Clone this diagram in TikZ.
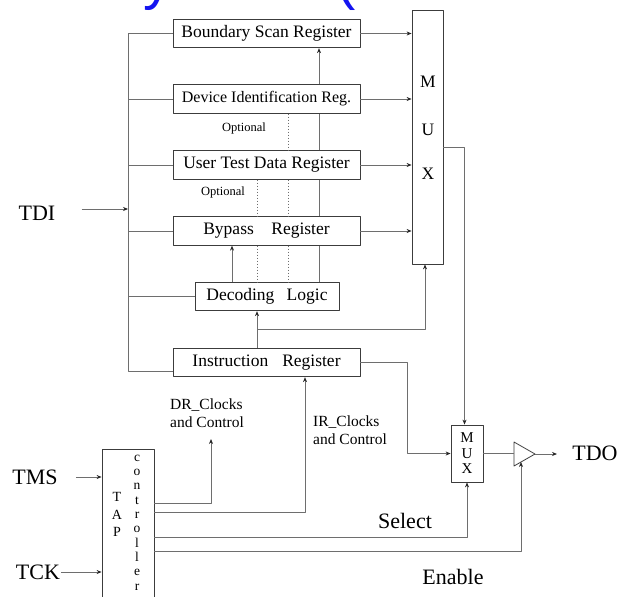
\documentclass[tikz,border=0pt]{standalone}
\usepackage{fontspec}
\setmainfont{Liberation Serif}
\newfontfamily\titlesans{Liberation Sans}
\usetikzlibrary{arrows.meta}
\definecolor{Wline}{HTML}{6E6E6E}
\definecolor{Bline}{HTML}{3C3C3C}
\definecolor{Tblue}{HTML}{1414F0}
\newcommand{\fs}[2]{\fontsize{#1}{#2}\selectfont}

\begin{document}
\begin{tikzpicture}[x=1pt,y=-1pt,line join=round,
  wire/.style={draw=Wline,line width=0.8pt},
  arr/.style={wire,-{Stealth[length=5pt,width=4pt,color=black!85]}},
  optline/.style={draw=Wline,line width=0.6pt,dash pattern=on 1.5pt off 1.5pt},
  reg/.style={draw=Bline,fill=white,line width=0.8pt,inner sep=0pt,
    minimum width=187pt,minimum height=28.5pt,font=\fs{17.5}{21}},
  lbl/.style={inner sep=0pt,font=\fs{22}{26}},
  small/.style={inner sep=0pt,font=\fs{15.5}{18},align=left}]
\useasboundingbox (0,0) rectangle (619,597);
\clip (0,0) rectangle (619,597);

% ---- slide title, mostly outside the window ----
\node[anchor=base west,inner sep=0pt,text=Tblue,font=\titlesans\fs{58}{60}] (title)
  at (-76,-1.5) {Boundary Scan (IEEE 1149.1)};

% ---- registers ----
\node[reg] (bsr) at (266.5,33.5) {Boundary Scan Register};
\node[reg,font=\fs{16}{19}] (dir) at (266.5,99) {Device Identification Reg.};
\node[reg] (utdr) at (266.5,165) {User Test Data Register};
\node[reg] (byp) at (266.5,231) {Bypass\quad Register};
\node[reg,minimum width=144pt] (dec) at (267,296.5) {Decoding\hspace{0.7em}Logic};
\node[reg] (ir) at (266.5,362.5) {Instruction\hspace{0.8em}Register};
\node[font=\fs{12.5}{15},inner sep=0pt] (opt1) at (244,128) {Optional};
\node[font=\fs{12.5}{15},inner sep=0pt] (opt2) at (223,192) {Optional};

% ---- multiplexers, TAP controller, output buffer ----
\node[draw=Bline,line width=0.8pt,inner sep=0pt,minimum width=31pt,minimum height=254pt] (mux) at (427.5,137) {};
\node[font=\fs{17.5}{21},align=center,inner sep=0pt] (muxtxt) at (428,128) {M\\[27pt]U\\[23pt]X};
\node[draw=Bline,fill=white,line width=0.8pt,inner sep=0pt,minimum width=32pt,minimum height=57pt,
  align=center,font=\fs{15}{15.5}] (smux) at (467,453.5) {M\\U\\X};
\node[draw=Bline,line width=0.8pt,inner sep=0pt,minimum width=52pt,minimum height=171pt] (tap) at (128,534.5) {};
\node[font=\fs{14}{17.5},align=center,inner sep=0pt] (taptxt) at (117,514.5) {T\\A\\P};
\node[font=\fs{13.5}{14.3},align=center,inner sep=0pt] (ctrltxt) at (137,522.5) {c\\o\\n\\t\\r\\o\\l\\l\\e\\r};
\coordinate (bufA) at (514,442);
\coordinate (bufB) at (514,466);
\coordinate (bufT) at (535,454);
\draw[wire,draw=Bline,fill=white] (bufA) -- (bufT) -- (bufB) -- cycle;

% ---- pins and signal labels ----
\node[lbl] (tdi) at (37,213) {TDI};
\node[lbl] (tms) at (35,477) {TMS};
\node[lbl] (tck) at (38,572) {TCK};
\node[lbl] (tdo) at (595,453) {TDO};
\node[lbl] (sel) at (405,521) {Select};
\node[lbl] (ena) at (453,577) {Enable};
\node[small,anchor=west] (drlbl) at (170,413) {DR\_Clocks\\and Control};
\node[small,anchor=west] (irlbl) at (313,430.5) {IR\_Clocks\\and Control};

% ---- TDI bus ----
\coordinate (busTop) at (128,33.5);
\coordinate (busBot) at (128,371);
\draw[wire] (bsr.west) -- (busTop) -- (busBot) -- (busBot -| ir.west);
\foreach \r in {dir,utdr,byp,dec}
  \draw[wire] (busTop |- \r.west) -- (\r.west);
\draw[arr] ([xshift=26pt,yshift=4pt]tdi.east) -- ([yshift=4pt]tdi.east -| busTop);

% ---- data registers into the MUX ----
\foreach \r in {bsr,dir,utdr,byp}
  \draw[arr] (\r.east) -- (\r.east -| mux.west);

% ---- decoder select lines ----
\coordinate (xv) at (319,0);
\coordinate (xo1) at (288,0);
\coordinate (xo2) at (257,0);
\coordinate (xd) at (232,0);
\draw[wire] (dec.north -| xv) -- (byp.south -| xv)
  (byp.north -| xv) -- (utdr.south -| xv)
  (utdr.north -| xv) -- (dir.south -| xv);
\draw[arr] (dir.north -| xv) -- (bsr.south -| xv);
\draw[optline] (dir.south -| xo1) -- (utdr.north -| xo1)
  (utdr.south -| xo1) -- (byp.north -| xo1)
  (byp.south -| xo1) -- (dec.north -| xo1);
\draw[optline] (utdr.south -| xo2) -- (byp.north -| xo2)
  (byp.south -| xo2) -- (dec.north -| xo2);
\draw[arr] (dec.north -| xd) -- (byp.south -| xd);

% ---- instruction register outputs ----
\coordinate (jn) at (257,329);
\coordinate (xr) at (407,0);
\draw[arr] (ir.north -| jn) -- (dec.south -| jn);
\draw[arr] (jn) -| ([xshift=-2.5pt]mux.south);
\draw[arr] (ir.east) -| (xr |- smux.west) -- (smux.west);

% ---- MUX to TDO ----
\coordinate (xm) at (464.5,147);
\coordinate (tdoIn) at (557,454);
\draw[arr] (mux.east |- xm) -- (xm) -- (xm |- smux.north);
\draw[wire] (smux.east) -- (smux.east -| bufA);
\draw[arr] (bufT) -- (tdoIn);

% ---- TAP controller ----
\coordinate (drTip) at (211,439);
\coordinate (irc) at (305,512);
\coordinate (selY) at (0,537);
\coordinate (enaY) at (521,551);
\coordinate (enaTip) at (521,462);
\draw[arr] ([xshift=18pt]tms.east) -- (tap.west |- tms.east);
\draw[arr] ([xshift=1pt]tck.east) -- (tap.west |- tck.east);
\draw[arr] (tap.east |- 0,503) -| (drTip);
\draw[arr] (tap.east |- irc) -- (irc) -- (irc |- ir.south);
\draw[arr] (tap.east |- selY) -| (smux.south);
\draw[arr] (tap.east |- enaY) -- (enaY) -- (enaTip);
\end{tikzpicture}
\end{document}
